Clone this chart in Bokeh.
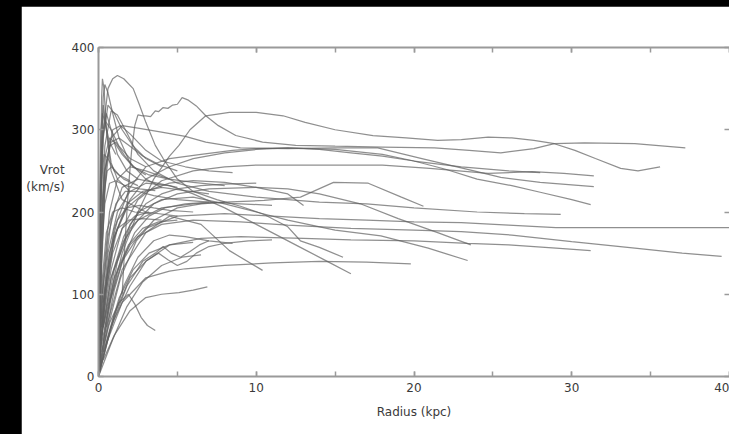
from bokeh.plotting import figure
from bokeh.models import Range1d, LinearAxis, SingleIntervalTicker, CustomJSTickFormatter
from bokeh.layouts import column
from bokeh.embed import file_html
from bokeh.resources import INLINE

# ---- data: rotation curves (radius in kpc, rotation velocity in km/s) ----
radius_kpc = [
    [0.3, 0.8, 1.5, 2.5, 3.5, 4.5, 5.1, 5.8, 6.8, 8.3, 10.0, 11.7, 13.1, 15.0, 17.4, 19.5, 21.5, 23.0, 24.7, 26.2, 27.6, 28.9, 30.2, 31.5, 33.1, 34.2, 35.6],
    [1.5, 1.7, 1.9, 2.1, 2.3, 2.5, 2.8, 3.0, 3.3, 3.6, 3.8, 4.1, 4.4, 4.7, 5.0, 5.3, 5.7, 6.2, 6.8, 7.6, 8.7, 10.4, 12.5, 15.0, 18.0, 21.3, 23.5, 25.5, 27.6, 28.9, 30.8, 34.0, 37.2],
    [0.05, 0.3, 0.6, 0.9, 1.2, 1.6, 2.2, 2.6, 3.0, 3.6, 4.1, 5.0, 6.0, 7.5, 9.0, 10.5, 12.0, 12.8, 14.0, 15.5],
    [0.1, 0.4, 0.8, 1.5, 2.5, 4.0, 5.5, 6.8, 9.0, 12.0, 15.0, 17.7, 20.5, 23.8, 25.5, 28.0, 31.4],
    [0.2, 0.6, 1.2, 2.0, 3.0, 4.5, 6.0, 8.0, 10.0, 12.0, 15.0, 18.0, 20.0, 22.0, 24.0, 26.2, 28.0, 30.0, 31.2],
    [0.1, 0.4, 0.8, 1.2, 1.7, 2.5, 3.5, 5.0, 7.0, 10.0, 14.0, 17.0, 20.0, 24.0, 27.0, 29.3],
    [0.2, 0.8, 1.5, 2.5, 4.0, 6.0, 8.0, 10.0, 12.8, 15.0, 18.0, 21.0, 24.7, 27.5, 29.5, 31.4],
    [0.3, 1.0, 2.0, 3.0, 5.0, 8.0, 11.0, 14.0, 17.0, 20.0, 23.0, 26.0, 29.0, 33.0, 36.0, 40.0],
    [0.2, 0.7, 1.5, 2.5, 4.0, 6.0, 9.0, 12.0, 16.0, 20.0, 23.0, 26.2, 30.0, 34.0, 37.0, 39.5],
    [0.3, 1.0, 2.0, 3.0, 4.5, 6.5, 9.0, 13.0, 16.0, 20.0, 23.4, 26.0, 29.0, 31.2],
    [0.2, 0.8, 1.6, 2.5, 4.0, 6.0, 8.0, 10.0, 12.0, 15.0, 17.9, 20.9, 23.4],
    [0.5, 1.5, 3.0, 4.5, 5.5, 8.0, 11.0, 14.0, 17.0, 19.8],
    [0.2, 0.6, 1.2, 2.0, 3.0, 4.5, 6.0, 8.0, 10.0, 12.8, 14.5, 16.0],
    [0.3, 1.0, 2.0, 3.5, 5.0, 7.0, 10.0, 12.0, 14.0, 16.6, 19.0, 21.5, 23.6],
    [0.2, 0.8, 1.6, 2.5, 4.0, 6.0, 8.0, 10.5, 12.8, 14.9, 17.1, 19.2, 20.6],
    [0.5, 1.5, 3.0, 4.5, 6.5, 8.3, 10.4],
    [0.3, 1.0, 2.0, 3.0, 4.0, 5.1, 6.0, 6.9],
    [0.2, 0.7, 1.3, 1.9, 2.3, 2.7, 3.1, 3.6],
    [0.3, 1.0, 2.0, 3.0, 4.5, 6.5, 8.5, 10.0, 12.0, 14.0, 16.0, 18.0, 20.0, 23.0, 26.0, 28.0],
    [0.0, 0.1, 0.2, 0.3, 0.4, 0.6, 0.9, 1.3, 2.0, 3.0, 4.0],
    [0.0, 0.05, 0.15, 0.3, 0.5, 0.8, 1.2, 2.0],
    [0.0, 0.1, 0.2, 0.25, 0.35, 0.5, 0.8, 1.5, 3.0, 5.0],
    [0.0, 0.2, 0.5, 0.9, 1.4, 2.0, 3.0, 4.0, 5.5, 7.0, 8.5],
    [0.0, 0.3, 0.7, 1.2, 2.0, 3.0, 4.5, 6.0, 8.0],
    [0.0, 0.4, 1.0, 1.8, 2.8, 4.0, 5.5, 7.0],
    [0.0, 0.3, 0.8, 1.5, 2.5, 3.5, 5.0],
    [0.0, 0.5, 1.2, 2.0, 3.0, 4.0, 5.0, 6.5, 8.0, 10.0],
    [0.0, 0.6, 1.4, 2.4, 3.5, 5.0, 6.5, 8.0],
    [0.0, 0.2, 0.4, 0.7, 1.1, 1.6, 2.2, 3.0],
    [0.0, 0.1, 0.25, 0.45, 0.7, 1.0, 1.5, 2.2, 3.2, 4.5],
    [0.0, 0.3, 0.7, 1.2, 1.8, 2.6, 3.5, 4.5, 6.0],
    [0.0, 0.2, 0.6, 1.1, 1.7, 2.5, 3.5, 5.0, 7.0, 9.0, 11.0],
    [0.0, 0.5, 1.0, 1.6, 2.3, 3.2, 4.2, 5.5, 7.0],
    [0.0, 0.8, 1.6, 2.5, 3.5, 4.5, 5.5, 7.0, 8.5],
    [0.0, 0.6, 1.3, 2.2, 3.2, 4.5, 6.0],
    [0.0, 0.9, 1.8, 2.8, 4.0, 5.3, 6.5],
    [0.0, 0.8, 1.8, 2.8, 3.6, 4.1, 4.6, 5.2, 5.8, 6.4, 7.0],
    [0.1, 1.0, 2.0, 3.0, 3.8, 4.4, 5.0, 5.6, 6.2, 7.0, 8.0, 9.5, 11.0],
    [0.0, 0.15, 0.4, 0.8, 1.3, 2.0, 2.8, 3.8, 5.0],
    [0.0, 0.1, 0.3, 0.6, 1.0, 1.5, 2.2, 3.0, 4.0],
    [0.0, 0.05, 0.15, 0.3, 0.5, 0.8, 1.2, 1.8, 2.5],
    [0.0, 0.4, 1.0, 1.8, 3.0, 4.5, 6.0, 8.0, 10.0, 12.0, 13.0],
    [0.0, 0.05, 0.1, 0.2, 0.35, 0.6, 1.0, 1.6, 2.5],
    [0.0, 0.08, 0.2, 0.4, 0.7, 1.1, 1.7, 2.6, 3.6],
    [0.0, 0.1, 0.25, 0.5, 0.9, 1.5, 2.3, 3.3],
    [0.0, 0.15, 0.35, 0.7, 1.2, 1.9, 2.8, 4.0],
    [0.0, 0.05, 0.12, 0.25, 0.45, 0.8, 1.3, 2.0, 3.0],
    [0.0, 0.1, 0.2, 0.35, 0.55, 0.85, 1.3, 2.0],
    [0.0, 0.2, 0.5, 0.9, 1.5, 2.3, 3.2],
    [0.0, 0.3, 0.7, 1.2, 1.9, 2.8, 3.8, 5.0],
    [0.0, 0.03, 0.08, 0.15, 0.25, 0.4, 0.7, 1.1],
]
vrot_kms = [
    [40, 95, 150, 200, 240, 268, 281, 300, 317, 321, 321, 317, 309, 300, 293, 290, 287, 288, 291, 290, 287, 283, 275, 265, 253, 250, 255],
    [100, 170, 230, 275, 305, 318, 317, 317, 316, 323, 322, 327, 326, 330, 331, 339, 336, 329, 317, 305, 293, 285, 281, 280, 279, 278, 275, 272, 277, 283, 284, 283, 278],
    [150, 300, 350, 362, 366, 362, 350, 330, 309, 281, 265, 240, 225, 215, 207, 197, 182, 165, 157, 145],
    [150, 250, 290, 305, 302, 297, 292, 285, 278, 277, 278, 278, 265, 250, 242, 236, 231],
    [60, 130, 180, 215, 240, 255, 265, 272, 276, 278, 276, 270, 262, 252, 240, 232, 224, 215, 209],
    [150, 280, 323, 318, 300, 270, 250, 235, 225, 218, 212, 210, 205, 200, 198, 197],
    [60, 130, 180, 215, 238, 250, 255, 257, 257, 257, 257, 253, 247, 249, 247, 244],
    [60, 120, 160, 180, 195, 198, 195, 192, 190, 188, 187, 184, 181, 181, 181, 181],
    [40, 90, 140, 170, 185, 190, 188, 184, 180, 178, 176, 172, 164, 156, 150, 146],
    [30, 70, 110, 140, 160, 168, 170, 168, 166, 165, 162, 160, 156, 153],
    [50, 120, 170, 200, 215, 218, 210, 200, 190, 178, 171, 156, 141],
    [40, 90, 120, 128, 131, 135, 138, 140, 139, 137],
    [70, 150, 200, 225, 235, 232, 222, 205, 185, 157, 140, 125],
    [60, 130, 180, 210, 222, 228, 230, 228, 222, 210, 192, 175, 160],
    [50, 120, 165, 190, 205, 210, 212, 214, 218, 236, 235, 218, 207],
    [60, 130, 175, 195, 185, 153, 129],
    [20, 50, 80, 96, 100, 102, 105, 109],
    [30, 65, 90, 100, 88, 72, 62, 56],
    [90, 180, 230, 255, 265, 270, 275, 277, 278, 276, 272, 268, 262, 255, 250, 248],
    [0, 150, 280, 340, 355, 345, 320, 290, 260, 240, 230],
    [0, 100, 250, 330, 300, 260, 240, 225],
    [0, 200, 340, 362, 350, 300, 250, 215, 200, 195],
    [0, 150, 260, 300, 305, 295, 275, 262, 255, 250, 248],
    [0, 120, 200, 240, 255, 250, 240, 236, 232],
    [0, 90, 170, 210, 225, 230, 226, 222],
    [0, 110, 190, 230, 240, 236, 230],
    [0, 70, 140, 185, 210, 222, 228, 232, 234, 235],
    [0, 60, 120, 165, 190, 205, 210, 212],
    [0, 130, 230, 280, 285, 270, 255, 245],
    [0, 110, 210, 270, 290, 285, 270, 255, 245, 240],
    [0, 80, 150, 190, 205, 208, 205, 202, 200],
    [0, 90, 170, 210, 225, 225, 220, 215, 212, 210, 208],
    [0, 55, 105, 145, 175, 195, 205, 210, 212],
    [0, 60, 110, 145, 165, 172, 170, 165, 162],
    [0, 50, 95, 130, 150, 160, 163],
    [0, 45, 85, 115, 135, 145, 148],
    [0, 60, 110, 140, 150, 158, 150, 145, 152, 160, 165],
    [10, 75, 120, 140, 150, 142, 135, 140, 150, 158, 162, 165, 166],
    [0, 160, 250, 285, 290, 280, 268, 258, 250],
    [0, 180, 290, 330, 320, 300, 280, 265, 255],
    [0, 120, 230, 300, 320, 300, 270, 250, 240],
    [0, 100, 170, 205, 225, 235, 238, 236, 230, 222, 208],
    [0, 90, 170, 240, 270, 265, 250, 240, 232],
    [0, 60, 150, 210, 235, 238, 232, 228, 226],
    [0, 50, 120, 175, 200, 205, 200, 198],
    [0, 40, 100, 150, 180, 190, 192, 190],
    [0, 130, 230, 290, 310, 300, 280, 265, 255],
    [0, 80, 160, 220, 250, 255, 245, 238],
    [0, 45, 105, 150, 180, 195, 200],
    [0, 40, 90, 130, 160, 180, 188, 190],
    [0, 120, 230, 300, 320, 310, 285, 270],
]
x_tick_values = [0, 10, 20, 30, 40]
y_tick_values = [0, 100, 200, 300, 400]
x_label = "Radius (kpc)"
y_label = "Vrot\n(km/s)\n\n\n\n"

FONT = "DejaVu Sans"
TXT = "#3a3a3a"
AX = "#9a9a9a"

p = figure(width=708, height=428, output_backend="svg", toolbar_location=None,
           x_range=Range1d(0, 40), y_range=Range1d(0, 400),
           min_border_left=77, min_border_right=0, min_border_top=41, min_border_bottom=58,
           background_fill_color="white", border_fill_color="white",
           outline_line_color=None)
p.margin = (6, 0, 0, 21)
p.grid.visible = False

p.multi_line(xs=radius_kpc, ys=vrot_kms, line_color="#606060", line_alpha=0.7, line_width=1.25)


def style(ax):
    ax.axis_line_color = AX
    ax.axis_line_width = 2
    ax.major_tick_line_color = AX
    ax.minor_tick_line_color = AX
    ax.major_tick_line_width = 1.5
    ax.minor_tick_line_width = 1.5
    ax.major_tick_in = 5
    ax.major_tick_out = 0
    ax.minor_tick_in = 5
    ax.minor_tick_out = 0
    ax.major_label_text_font = FONT
    ax.major_label_text_color = TXT
    ax.major_label_text_font_size = "12px"
    ax.axis_label_text_font = FONT
    ax.axis_label_text_color = TXT
    ax.axis_label_text_font_style = "normal"
    ax.axis_label_text_font_size = "12px"


p.xaxis.ticker = SingleIntervalTicker(interval=10, num_minor_ticks=2)
p.yaxis.ticker = SingleIntervalTicker(interval=100, num_minor_ticks=0)
style(p.xaxis[0])
style(p.yaxis[0])
p.yaxis[0].minor_tick_in = 0
p.xaxis[0].major_label_standoff = 6
p.yaxis[0].major_label_standoff = 4
p.xaxis[0].axis_label = x_label
p.xaxis[0].axis_label_standoff = 10
p.yaxis[0].axis_label = y_label
p.yaxis[0].axis_label_orientation = "horizontal"
p.yaxis[0].axis_label_standoff = 4

# box sides with inward ticks, no labels
blank = CustomJSTickFormatter(code="return ''")
top = LinearAxis(ticker=SingleIntervalTicker(interval=10, num_minor_ticks=2), formatter=blank)
right = LinearAxis(ticker=SingleIntervalTicker(interval=100, num_minor_ticks=0), formatter=blank)
for ax in (top, right):
    style(ax)
    ax.major_label_standoff = 0
right.minor_tick_in = 0
right.axis_line_color = None
p.add_layout(top, "above")
p.add_layout(right, "right")

layout = column(p, width=729, height=434, styles={"background-color": "black"})
open("out.html", "w").write(file_html(layout, INLINE))
